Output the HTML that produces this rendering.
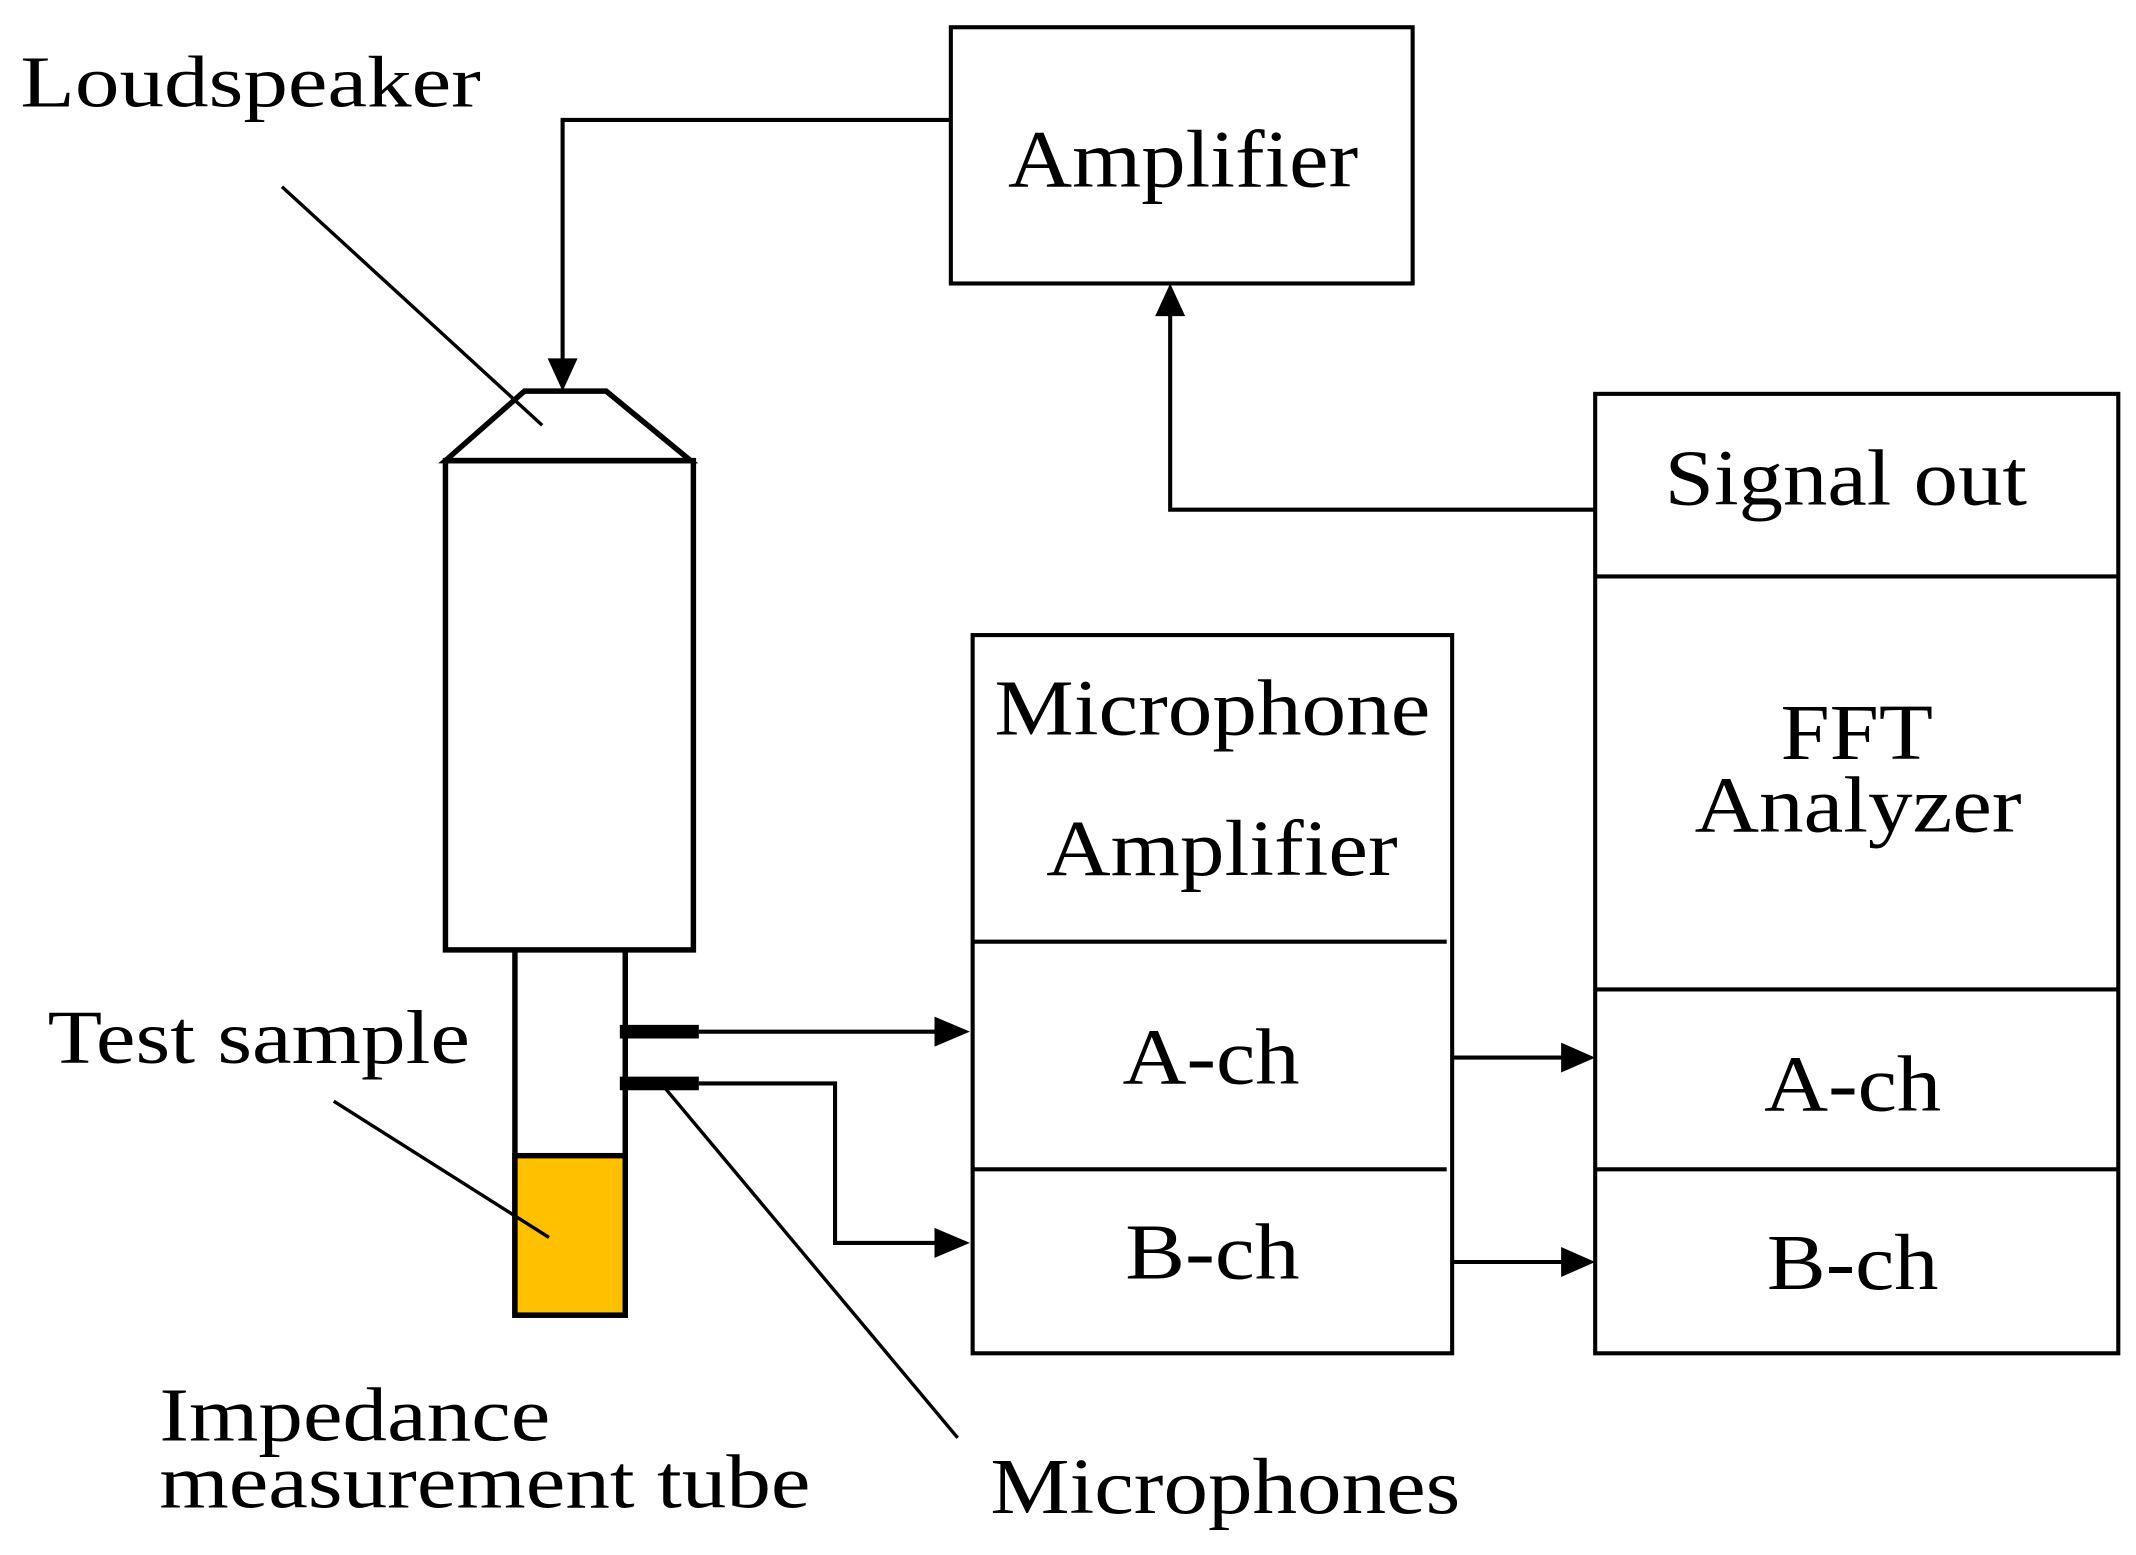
<!DOCTYPE html>
<html><head><meta charset="utf-8"><style>
html,body{margin:0;padding:0;background:#fff;}
svg{display:block;}
text{font-family:"Liberation Serif",serif;fill:#000;}
</style></head><body>
<svg width="2136" height="1555" viewBox="0 0 1568 1141" preserveAspectRatio="none" xmlns="http://www.w3.org/2000/svg">
<g fill="none" stroke="#000" stroke-width="3">
<rect x="698" y="20" width="339" height="188"/>
<polyline points="698,88 413,88 413,265"/>
<polyline points="1171,374 859,374 859,230"/>
<rect x="714" y="466" width="352" height="527"/>
<line x1="714" y1="691" x2="1062" y2="691"/>
<line x1="714" y1="858" x2="1062" y2="858"/>
<rect x="1171" y="289" width="384" height="704"/>
<line x1="1171" y1="423" x2="1555" y2="423"/>
<line x1="1171" y1="726" x2="1555" y2="726"/>
<line x1="1171" y1="858" x2="1555" y2="858"/>
<line x1="513" y1="757" x2="688" y2="757"/>
<polyline points="513,795 613,795 613,912 688,912"/>
<line x1="1066" y1="776" x2="1148" y2="776"/>
<line x1="1066" y1="926" x2="1148" y2="926"/>
</g>
<g fill="#000">
<polygon points="402,263 424,263 413,287"/>
<polygon points="848,232 870,232 859,208"/>
<polygon points="686,746 686,768 712,757"/>
<polygon points="686,901 686,923 712,912"/>
<polygon points="1146,765 1146,787 1171,776"/>
<polygon points="1146,915 1146,937 1171,926"/>
<rect x="455" y="752" width="58" height="10"/>
<rect x="455" y="790" width="58" height="10"/>
</g>
<g fill="none" stroke="#000" stroke-width="4">
<polygon points="385,287 445,287 507,338 327,338"/>
<rect x="327" y="338" width="182" height="359"/>
<polyline points="378,697 378,965 459,965 459,697"/>
</g>
<rect x="378" y="848" width="81" height="117" fill="#FFC000" stroke="#000" stroke-width="4"/>
<g fill="none" stroke="#000" stroke-width="2.5">
<line x1="207" y1="137" x2="398" y2="312"/>
<line x1="245" y1="808" x2="403" y2="908"/>
<line x1="487" y1="797" x2="703" y2="1055"/>
</g>
<text x="15" y="78" font-size="54" textLength="338" lengthAdjust="spacingAndGlyphs">Loudspeaker</text>
<text x="740" y="137" font-size="60" textLength="257" lengthAdjust="spacingAndGlyphs">Amplifier</text>
<text x="1222" y="370" font-size="58" textLength="266" lengthAdjust="spacingAndGlyphs">Signal out</text>
<text x="1307" y="557" font-size="58" textLength="112" lengthAdjust="spacingAndGlyphs">FFT</text>
<text x="1244" y="610" font-size="58" textLength="240" lengthAdjust="spacingAndGlyphs">Analyzer</text>
<text x="730" y="539" font-size="58" textLength="320" lengthAdjust="spacingAndGlyphs">Microphone</text>
<text x="768" y="642" font-size="58" textLength="258" lengthAdjust="spacingAndGlyphs">Amplifier</text>
<text x="824" y="795" font-size="58" textLength="130" lengthAdjust="spacingAndGlyphs">A-ch</text>
<text x="826" y="938" font-size="58" textLength="128" lengthAdjust="spacingAndGlyphs">B-ch</text>
<text x="1295" y="815" font-size="58" textLength="130" lengthAdjust="spacingAndGlyphs">A-ch</text>
<text x="1297" y="946" font-size="58" textLength="126" lengthAdjust="spacingAndGlyphs">B-ch</text>
<text x="35" y="780" font-size="56" textLength="310" lengthAdjust="spacingAndGlyphs">Test sample</text>
<text x="117" y="1057" font-size="56" textLength="287" lengthAdjust="spacingAndGlyphs">Impedance</text>
<text x="117" y="1106" font-size="56" textLength="478" lengthAdjust="spacingAndGlyphs">measurement tube</text>
<text x="727" y="1110" font-size="58" textLength="345" lengthAdjust="spacingAndGlyphs">Microphones</text>
</svg>
</body></html>
